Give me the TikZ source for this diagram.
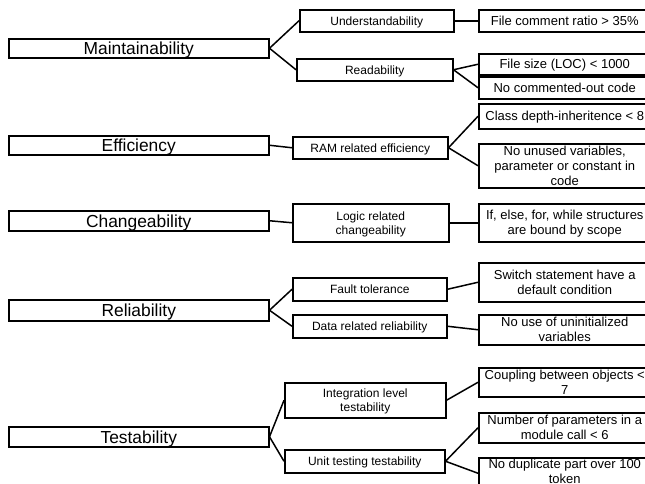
\documentclass[tikz,border=0pt]{standalone}
\usepackage{fontspec}
\setmainfont{Liberation Sans}

\tikzset{
  box/.style={draw, line width=1.5pt, anchor=north west, inner sep=0pt, align=center, text depth=0pt},
  cat/.style={box, minimum width=260pt, font=\fontsize{17.4}{20}\selectfont},
  mid/.style={box, font=\fontsize{12}{14}\selectfont},
  leaf/.style={box, minimum width=172pt, font=\fontsize{13}{15}\selectfont},
  link/.style={line width=1.5pt},
}

\begin{document}
\begin{tikzpicture}[x=1pt,y=-1pt]

            \useasboundingbox (0,0) rectangle (645,483);
            \fill[white] (0,0) rectangle (645,483);
            \clip (0,0) rectangle (645,483);

            % characteristics
            \node[cat, minimum height=19pt] (maint) at (8,38) {Maintainability};
            \node[cat, minimum height=19pt] (eff) at (8,135) {Efficiency};
            \node[cat, minimum height=20pt] (chg) at (8,210) {Changeability};
            \node[cat, minimum height=21pt] (rel) at (8,299) {Reliability};
            \node[cat, minimum height=20pt] (tst) at (8,426) {Testability};

            % sub-characteristics
            \node[mid, minimum width=154pt, minimum height=22pt] (under) at (299,9) {Understandability};
            \node[mid, minimum width=156pt, minimum height=22pt] (read) at (296,58) {Readability};
            \node[mid, minimum width=155pt, minimum height=22pt] (ram) at (292,136) {RAM related efficiency};
            \node[mid, minimum width=156pt, minimum height=38pt] (logic) at (292,203) {Logic related\\changeability};
            \node[mid, minimum width=154pt, minimum height=23pt] (fault) at (292,277) {Fault tolerance};
            \node[mid, minimum width=154pt, minimum height=23pt] (data) at (292,314) {Data related reliability};
            \node[mid, minimum width=161pt, minimum height=35pt] (integ) at (284,382) {Integration level\\testability};
            \node[mid, minimum width=160pt, minimum height=23pt] (unit) at (284,449) {Unit testing testability};

            % rules
            \node[leaf, minimum height=22pt] (ratio) at (478,9) {File comment ratio > 35\%};
            \node[leaf, minimum height=21pt] (loc) at (478,53) {File size (LOC) < 1000};
            \node[leaf, minimum height=22pt] (nocom) at (478,76) {No commented-out code};
            \node[leaf, minimum height=25pt] (depth) at (478,103) {Class depth-inheritence < 8};
            \node[leaf, minimum height=44pt] (unused) at (478,143) {No unused variables,\\parameter or constant in\\code};
            \node[leaf, minimum height=38pt] (scope) at (478,203) {If, else, for, while structures\\are bound by scope};
            \node[leaf, minimum height=39pt] (switch) at (478,262) {Switch statement have a\\default condition};
            \node[leaf, minimum height=30pt] (uninit) at (478,314) {No use of uninitialized\\variables};
            \node[leaf, minimum height=29pt] (coupl) at (478,367) {Coupling between objects <\\7};
            \node[leaf, minimum height=30pt] (param) at (478,412) {Number of parameters in a\\module call < 6};
            \node[leaf, minimum height=31pt, text depth=3pt] (dup) at (478,457) {No duplicate part over 100\\token};

            \path[link] (maint.east) edge (under.west) edge (read.west)
                        (eff.east) edge (ram.west)
                        (chg.east) edge (logic.west)
                        (rel.east) edge (fault.west) edge (data.west)
                        (tst.east) edge (integ.west) edge (unit.west);

            \path[link] (under.east) edge (ratio.west)
                        (read.east) edge (loc.west) edge (nocom.west)
                        (ram.east) edge (depth.west) edge (unused.west)
                        (logic.east) edge (scope.west)
                        (fault.east) edge (switch.west)
                        (data.east) edge (uninit.west)
                        (integ.east) edge (coupl.west)
                        (unit.east) edge (param.west) edge (dup.west);

        \end{tikzpicture}
\end{document}
